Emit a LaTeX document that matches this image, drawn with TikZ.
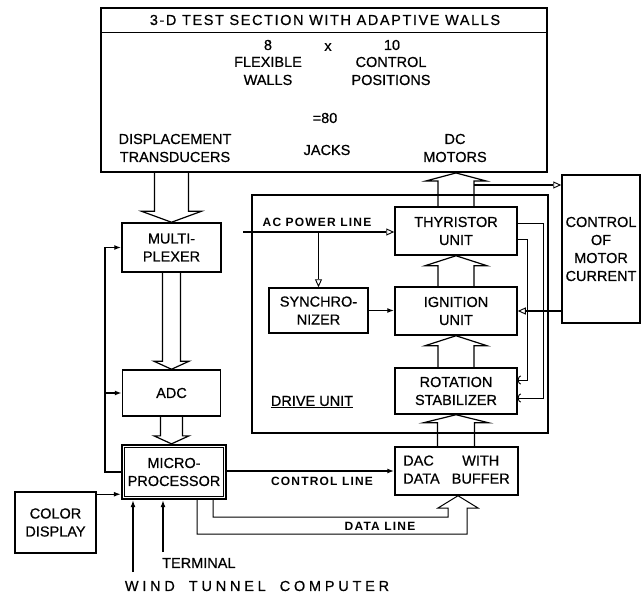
\documentclass[tikz,border=0pt]{standalone}
\usepackage{fontspec}
\setmainfont{Liberation Sans}
\usetikzlibrary{arrows.meta, calc, positioning}

\newcommand\bigtext{\fontsize{14.5}{18}\selectfont\addfontfeature{FakeBold=0.6}}
\newcommand\smalltext{\fontsize{12}{14}\selectfont\bfseries\addfontfeature{LetterSpace=10}}

% hollow block arrow: [head length]{from}{to}{half body}{half head}
\newcommand\fatarrow[5][10]{%
  \draw[fatline] let \p1=(#2), \p2=(#3), \n1={ifthenelse(\y2>\y1,-#1,#1)} in
    ({\x2-#4},\y1) -- ({\x2-#4},{\y2+(\n1)}) -- ({\x2-#5},{\y2+(\n1)}) -- (\x2,\y2)
    -- ({\x2+#5},{\y2+(\n1)}) -- ({\x2+#4},{\y2+(\n1)}) -- ({\x2+#4},\y1);}

\tikzset{
  unit/.style={draw, line width=1.5pt, align=center, font=\bigtext, inner sep=0pt},
  txt/.style={align=center, font=\bigtext, inner sep=0pt},
  linelabel/.style={font=\smalltext, inner sep=0pt},
  sig/.style={-{Latex[length=7pt,width=5pt]}, line width=1.4pt},
  pwr/.style={-{Triangle[open,length=8pt,width=7pt,line width=0.9pt]}, line width=1.7pt},
  fbline/.style={-{Arc Barb[length=3pt,width=9pt]}, line width=0.9pt},
  fatline/.style={line width=1.2pt, line join=miter},
  dataline/.style={line width=1pt, line join=miter}
}

\begin{document}
\begin{tikzpicture}[x=1pt, y=-1pt]
  \useasboundingbox (0,0) rectangle (643,594);

  % test section
  \node[unit, line width=1.9pt, minimum width=446pt, minimum height=164pt] (test) at (324,90) {};
  \draw[line width=1pt] ([yshift=-25pt]test.north west) -- ([yshift=-25pt]test.north east);
  \node[txt, font=\bigtext\addfontfeature{LetterSpace=11}] (title) at (325,20) {3-D TEST SECTION WITH ADAPTIVE WALLS};
  \node[txt] (eight) at (268,45) {8};
  \node[txt] (times) at (328,47) {x};
  \node[txt] (ten) at (392,45) {10};
  \node[txt] (walls) at (268,71) {FLEXIBLE\\WALLS};
  \node[txt] (ctrlpos) at (391,71) {CONTROL\\POSITIONS};
  \node[txt] (eighty) at (325,118) {=80};
  \node[txt] (transd) at (175,148) {DISPLACEMENT\\TRANSDUCERS};
  \node[txt] (jacks) at (327,150) {JACKS};
  \node[txt] (motors) at (455,148) {DC\\MOTORS};

  % measuring chain
  \node[unit, minimum width=99pt, minimum height=49pt] (mux) at (171.5,247.5) {MULTI-\\PLEXER};
  \node[unit, minimum width=98pt, minimum height=46pt] (adc) at (171.5,393) {ADC};
  \node[unit, line width=2.3pt, minimum width=104pt, minimum height=54pt] (mp) at (174,472) {MICRO-\\PROCESSOR};
  \draw[line width=0.8pt] ([shift={(3.4pt,-3.4pt)}]mp.north west) rectangle ([shift={(-3.4pt,3.4pt)}]mp.south east);
  \node[unit, minimum width=81pt, minimum height=61pt] (disp) at (55.5,522.5) {COLOR\\DISPLAY};
  \node[unit, minimum width=123pt, minimum height=48pt] (dac) at (456.5,471)
    {\begin{tabular}{@{}l@{\hspace{12pt}}c@{}}DAC & WITH\\DATA & BUFFER\end{tabular}};

  % drive unit
  \node[draw, line width=2.5pt, minimum width=296pt, minimum height=238pt] (drive) at (400,314) {};
  \node[txt] (drivelbl) at (312,402) {\underline{DRIVE UNIT}};
  \node[unit, minimum width=122pt, minimum height=48pt] (thy) at (456,231) {THYRISTOR\\UNIT};
  \node[unit, minimum width=122pt, minimum height=48pt] (ign) at (456,311) {IGNITION\\UNIT};
  \node[unit, minimum width=122pt, minimum height=46pt] (rot) at (456,391) {ROTATION\\STABILIZER};
  \node[unit, minimum width=99pt, minimum height=45pt] (sync) at (318.5,310.5) {SYNCHRO-\\NIZER};
  \node[unit, minimum width=78pt, minimum height=148pt] (mcc) at (601,249) {CONTROL\\OF\\MOTOR\\CURRENT};

  % block arrows
  \fatarrow[11]{test.south -| mux.north}{mux.north}{17pt}{30pt}
  \fatarrow[8]{mux.south}{adc.north}{9pt}{17.5pt}
  \fatarrow[8]{adc.south}{adc.south |- mp.north}{11pt}{17.5pt}
  \fatarrow[8]{dac.north}{rot.south}{18.5pt}{32.5pt}
  \fatarrow{rot.north}{ign.south}{18pt}{31pt}
  \fatarrow{ign.north}{thy.south}{18pt}{31pt}
  \fatarrow[8]{thy.north}{thy.north |- test.south}{18pt}{30pt}

  % motor current tap
  \coordinate (tap) at (474,185);
  \draw[pwr] (tap) -- (tap -| mcc.west);

  % feedback to multiplexer and adc
  \coordinate (fb) at (105,472);
  \draw[sig] (mp.west) -- (fb) |- (mux.west);
  \draw[sig] (fb) |- (adc.west);

  % inputs of the microprocessor
  \coordinate (dispout) at ([yshift=-3pt]disp.north east);
  \draw[sig] (dispout) -- (dispout -| mp.west);
  \node[txt, font=\bigtext\addfontfeature{LetterSpace=26}] (wtcname) at (257,586) {WIND\hspace{14pt}TUNNEL\hspace{14pt}COMPUTER};
  \coordinate (wtc) at (133,572);
  \draw[sig] (wtc) -- (wtc |- mp.south);
  \node[txt, anchor=west] (term) at (162,563) {TERMINAL};
  \coordinate (termin) at (163,552);
  \draw[sig] (termin) -- (termin |- mp.south);

  % control and data lines
  \draw[sig] (mp.east |- dac.west) -- (dac.west);
  \node[linelabel] (ctrllbl) at (322,481) {CONTROL LINE};
  \draw[dataline] ([xshift=39pt]mp.south) |- (448,517) -- (448,508) -- (438,508) -- ([xshift=1.5pt]dac.south)
    -- (478,508) -- (467,508) -- (467,534) -| ([xshift=23pt]mp.south);
  \node[linelabel] (datalbl) at (380,526) {DATA LINE};

  % power line and synchronizer
  \coordinate (acin) at (243,232);
  \draw[pwr] (acin) -- (acin -| thy.west);
  \draw[pwr] (acin -| sync.north) -- (sync.north);
  \node[linelabel] (aclbl) at (317,222) {AC POWER LINE};
  \draw[sig] (sync.east) -- (sync.east -| ign.west);
  \draw[pwr] (mcc.west |- ign.east) -- (ign.east);

  % thyristor feedback to stabilizer
  \draw[fbline] ([yshift=8pt]thy.east) -- ++(26,0) |- ([yshift=-7pt]rot.east);
  \draw[fbline] ([yshift=-8pt]thy.east) -- ++(10,0) |- ([yshift=11pt]rot.east);
\end{tikzpicture}
\end{document}
